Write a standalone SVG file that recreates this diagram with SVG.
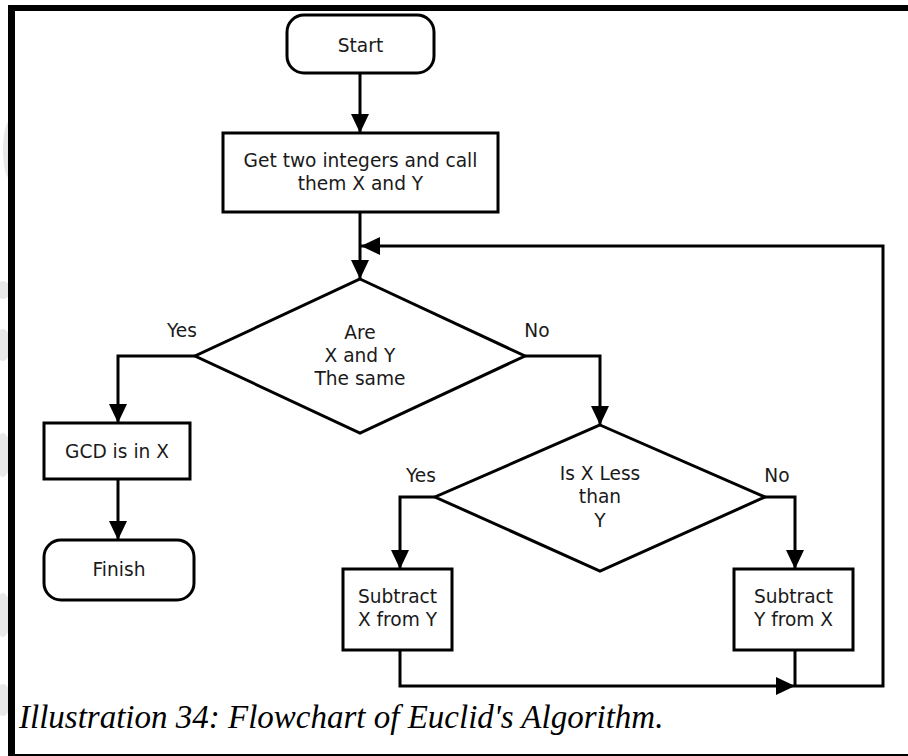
<svg xmlns="http://www.w3.org/2000/svg" width="908" height="756" viewBox="0 0 908 756">
  <style>
    .shape { fill: #ffffff; stroke: #000000; stroke-width: 3; }
    .wire { fill: none; stroke: #000000; stroke-width: 3; }
    .label { font-family: "DejaVu Sans", Verdana, sans-serif; font-size: 18.6px; fill: #1a1a1a; text-anchor: middle; }
    .caption { font-family: "Liberation Serif", "Times New Roman", serif; font-style: italic; font-size: 33px; fill: #000000; }
    .smudge { fill: #e8e8e8; }
  </style>
  <defs>
    <marker id="arrow" markerUnits="userSpaceOnUse" markerWidth="20" markerHeight="20" viewBox="0 0 20 20" refX="19" refY="10" orient="auto">
      <path d="M0,1 L19,10 L0,19 Z" fill="#000000"/>
    </marker>
  </defs>

  <rect x="0" y="0" width="908" height="756" fill="#ffffff"/>

  <!-- faint marks along the left margin -->
  <g id="margin-marks">
    <ellipse class="smudge" cx="9" cy="150" rx="6" ry="28"/>
    <ellipse class="smudge" cx="3" cy="290" rx="8" ry="9"/>
    <ellipse class="smudge" cx="3" cy="345" rx="8" ry="16"/>
    <ellipse class="smudge" cx="3" cy="455" rx="8" ry="22"/>
    <ellipse class="smudge" cx="3" cy="615" rx="8" ry="22"/>
    <ellipse class="smudge" cx="3" cy="700" rx="8" ry="16"/>
  </g>

  <!-- page frame -->
  <g id="frame">
    <rect x="8" y="5" width="900" height="6" fill="#000000"/>
    <rect x="8" y="5" width="7" height="751" fill="#000000"/>
    <rect x="8" y="754" width="900" height="2" fill="#000000"/>
  </g>

  <!-- connectors -->
  <g id="connectors">
    <path class="wire" d="M360,73 V133" marker-end="url(#arrow)"/>
    <path class="wire" d="M360,212 V279" marker-end="url(#arrow)"/>
    <path class="wire" d="M795,686 H883 V246 H361" marker-end="url(#arrow)"/>
    <path class="wire" d="M195,356 H118 V423" marker-end="url(#arrow)"/>
    <path class="wire" d="M118,479 V540" marker-end="url(#arrow)"/>
    <path class="wire" d="M525,356 H600 V425" marker-end="url(#arrow)"/>
    <path class="wire" d="M435,497 H400 V569" marker-end="url(#arrow)"/>
    <path class="wire" d="M765,497 H795 V569" marker-end="url(#arrow)"/>
    <path class="wire" d="M400,650 V686 H795" marker-end="url(#arrow)"/>
    <path class="wire" d="M795,650 V686"/>
  </g>

  <g id="start">
    <rect class="shape" x="287" y="15" width="147" height="58" rx="17" ry="17"/>
    <text class="label" x="360.5" y="52">Start</text>
  </g>

  <g id="get-integers">
    <rect class="shape" x="223" y="133" width="275" height="79"/>
    <text class="label" x="360.5" y="167">Get two integers and call</text>
    <text class="label" x="360.5" y="190">them X and Y</text>
  </g>

  <g id="are-same">
    <polygon class="shape" points="360,279 525,356 360,433 195,356"/>
    <text class="label" x="360" y="339">Are</text>
    <text class="label" x="360" y="362">X and Y</text>
    <text class="label" x="360" y="385">The same</text>
  </g>
  <text class="label" x="182" y="337">Yes</text>
  <text class="label" x="537" y="337">No</text>

  <g id="gcd">
    <rect class="shape" x="44" y="423" width="146" height="56"/>
    <text class="label" x="117" y="458">GCD is in X</text>
  </g>

  <g id="finish">
    <rect class="shape" x="44" y="540" width="150" height="60" rx="17" ry="17"/>
    <text class="label" x="119" y="576">Finish</text>
  </g>

  <g id="x-less-than-y">
    <polygon class="shape" points="600,425 765,497 600,571 435,497"/>
    <text class="label" x="600" y="480">Is X Less</text>
    <text class="label" x="600" y="503">than</text>
    <text class="label" x="600" y="527">Y</text>
  </g>
  <text class="label" x="421" y="482">Yes</text>
  <text class="label" x="777" y="482">No</text>

  <g id="subtract-x">
    <rect class="shape" x="343" y="569" width="109" height="81"/>
    <text class="label" x="397.5" y="603">Subtract</text>
    <text class="label" x="397.5" y="626">X from Y</text>
  </g>

  <g id="subtract-y">
    <rect class="shape" x="734" y="569" width="119" height="81"/>
    <text class="label" x="793.5" y="603">Subtract</text>
    <text class="label" x="793.5" y="626">Y from X</text>
  </g>

  <text class="caption" x="19" y="728">Illustration 34: Flowchart of Euclid's Algorithm.</text>
</svg>
